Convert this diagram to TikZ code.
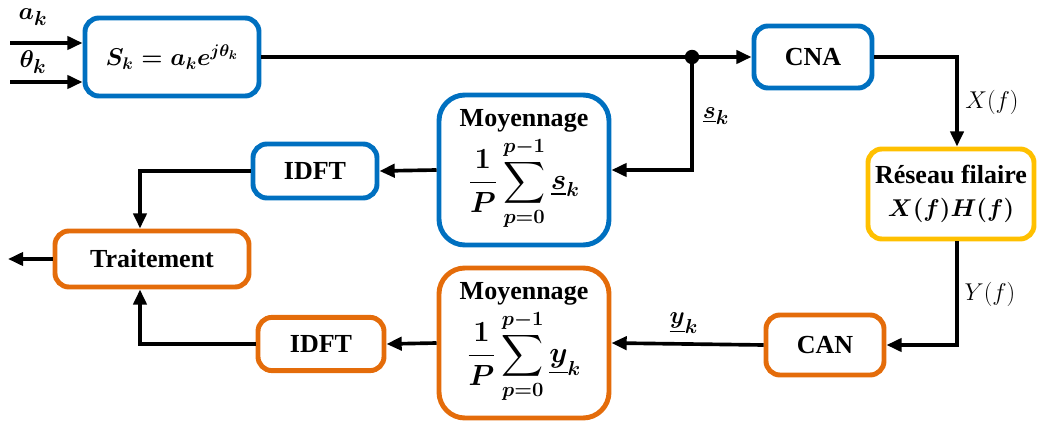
\documentclass[tikz,border=0pt]{standalone}
\usepackage{amsmath}
\usepackage{fontspec}
\setmainfont{Liberation Serif}
\usetikzlibrary{arrows.meta}
\definecolor{bleu}{RGB}{0,112,192}
\definecolor{orange}{RGB}{228,108,10}
\definecolor{jaune}{RGB}{255,192,0}
\newcommand{\moyenne}[1]{\fontsize{22}{26}\selectfont$\displaystyle\frac{1}{P}\sum_{p=0}^{p-1}\underline{#1}_k$}
\begin{document}
\begin{tikzpicture}[x=0.025cm,y=-0.025cm,
	bloc/.style={draw,line width=3.5pt,rounded corners=0.35cm,align=center,inner sep=2pt,
		font=\fontsize{18.5}{22}\selectfont\bfseries\boldmath},
	moy/.style={bloc,rounded corners=0.65cm,minimum width=4.25cm,minimum height=3.75cm},
	fl/.style={line width=2.6pt,-{Triangle[length=0.38cm,width=0.33cm]}},
	lien/.style={line width=2.6pt},
	lab/.style={font=\fontsize{19}{22}\selectfont\boldmath},
	labn/.style={font=\fontsize{17}{20}\selectfont}]
	\useasboundingbox (0,0) rectangle (1040,426);
	% blocs
	\node[bloc,draw=bleu,minimum width=4.35cm,minimum height=1.95cm] (sk) at (172,57) {$S_k = a_k e^{j\theta_k}$};
	\node[bloc,draw=bleu,minimum width=2.95cm,minimum height=1.55cm] (cna) at (813,57) {CNA};
	\node[bloc,draw=jaune,minimum width=4.15cm,minimum height=2.25cm] (res) at (951,194) {R\'eseau filaire\\[2pt] $X(f)H(f)$};
	\node[moy,draw=bleu] (moyb) at (524,170) {Moyennage\\[2pt] \moyenne{s}};
	\node[bloc,draw=bleu,minimum width=3.1cm,minimum height=1.35cm] (idftb) at (315,171) {IDFT};
	\node[bloc,draw=orange,minimum width=4.85cm,minimum height=1.4cm] (trait) at (152,259) {Traitement};
	\node[moy,draw=orange] (moyo) at (524,343) {Moyennage\\[2pt] \moyenne{y}};
	\node[bloc,draw=orange,minimum width=3.15cm,minimum height=1.33cm] (idfto) at (321,344) {IDFT};
	\node[bloc,draw=orange,minimum width=2.95cm,minimum height=1.5cm] (can) at (825,345) {CAN};
	% entrees
	\coordinate (ea) at (10,43);
	\coordinate (et) at (10,82);
	\draw[fl] (ea) -- (ea -| sk.west);
	\draw[fl] (et) -- (et -| sk.west);
	\node[lab] (la) at (33,17) {$a_k$};
	\node[lab] (lt) at (33,62) {$\theta_k$};
	% liaisons
	\node[circle,fill=black,inner sep=0pt,minimum size=0.36cm] (pt) at (692,57) {};
	\draw[lien] (sk.east) -- (pt);
	\draw[fl] (pt) -- (cna.west);
	\draw[fl] (pt) |- (moyb.east);
	\node[lab] (ls) at (716,116) {$\underline{s}_k$};
	\draw[fl] (moyb.west) -- (idftb.east);
	\draw[fl] (idftb.west) -| ([xshift=-0.3cm]trait.north);
	\draw[fl] (cna.east) -| ([xshift=0.15cm]res.north);
	\node[labn] (lx) at (992,102) {$X(f)$};
	\draw[fl] ([xshift=0.15cm]res.south) |- (can.east);
	\node[labn] (ly) at (990,294) {$Y(f)$};
	\draw[fl] (can.west) -- (moyo.east);
	\node[lab] (lyk) at (684,323) {$\underline{y}_k$};
	\draw[fl] (moyo.west) -- (idfto.east);
	\draw[fl] (idfto.west) -| ([xshift=-0.3cm]trait.south);
	\coordinate (sortie) at (8,259);
	\draw[fl] (trait.west) -- (sortie);
\end{tikzpicture}
\end{document}
